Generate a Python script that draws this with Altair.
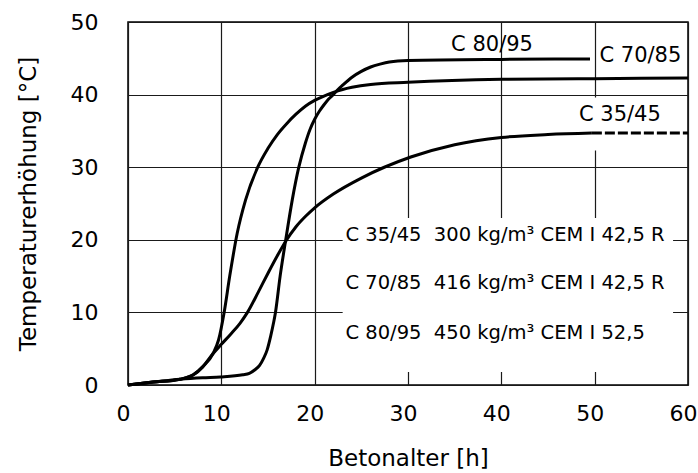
import altair as alt
import pandas as pd

# Temperaturerhöhung [°C] over Betonalter [h] for three concrete mixes
c7085_h = [0, 2.7, 5.6, 7.0, 8.0, 9.1, 9.7, 10.3, 10.9, 11.7, 12.6, 13.9, 15.0, 16.0, 17.0, 18.0, 19.0, 20.0, 21.0, 22.0, 23.0, 24.0, 26.0, 30.0, 40, 50, 60]
c7085_t = [0, 0.4, 0.8, 1.4, 2.5, 4.3, 6.2, 10.0, 15.0, 20.9, 25.5, 30.0, 32.6, 34.5, 36.0, 37.3, 38.4, 39.2, 39.8, 40.3, 40.7, 41.0, 41.4, 41.7, 42.1, 42.2, 42.3]

c8095_h = [0, 2.7, 5.6, 8.0, 9.9, 12.3, 13.0, 13.6, 14.1, 14.5, 14.9, 15.3, 15.6, 15.8, 16.3, 16.9, 17.6, 18.3, 19.0, 19.5, 20.0, 20.5, 21.0, 21.5, 22.0, 22.5, 23.0, 24.0, 25.0, 26.0, 27.0, 28.0, 30.0, 40.0, 49.5]
c8095_t = [0, 0.4, 0.8, 1.0, 1.1, 1.4, 1.6, 2.1, 2.7, 3.6, 4.8, 6.8, 8.6, 10.0, 15.0, 20.0, 25.5, 30.0, 33.3, 35.2, 36.6, 37.7, 38.6, 39.4, 40.0, 40.7, 41.3, 42.4, 43.2, 43.8, 44.2, 44.5, 44.7, 44.85, 44.9]

c3545_h = [0, 2.7, 5.6, 7.0, 8.0, 9.1, 10.0, 11.0, 12.0, 12.8, 14.0, 15.0, 16.0, 16.9, 18.0, 19.0, 20.0, 22.0, 25.0, 30.3, 35.0, 40.0, 45.0, 49.7]
c3545_t = [0, 0.4, 0.8, 1.4, 2.5, 4.3, 5.6, 7.0, 8.5, 10.0, 12.9, 15.4, 17.8, 19.8, 21.8, 23.2, 24.4, 26.3, 28.5, 31.4, 33.1, 34.1, 34.5, 34.7]

# extrapolated tail of C 35/45
c3545_tail_h = [49.7, 60]
c3545_tail_t = [34.7, 34.7]

# curve names and their label anchors
curve_names = ["C 80/95", "C 70/85", "C 35/45"]
curve_label_h = [39.0, 54.9, 52.7]
curve_label_t = [46.8, 45.3, 37.2]

# mix descriptions (non-breaking spaces keep the wide gap)
mix_lines = [
    "C 35/45\u00a0\u00a0300 kg/m³ CEM I 42,5 R",
    "C 70/85\u00a0\u00a0416 kg/m³ CEM I 42,5 R",
    "C 80/95\u00a0\u00a0450 kg/m³ CEM I 52,5",
]
mix_line_h = [23.3, 23.3, 23.3]
mix_line_t = [20.7, 14.05, 7.2]

# blank panels that interrupt the grid behind the texts
blank_h1 = [23.0, 49.6]
blank_h2 = [58.4, 50.4]
blank_t1 = [1.8, 32.3]
blank_t2 = [23.0, 39.6]

FONT = "DejaVu Sans"

curves = pd.concat([
    pd.DataFrame({"h": c7085_h, "t": c7085_t, "mix": "C 70/85"}),
    pd.DataFrame({"h": c8095_h, "t": c8095_t, "mix": "C 80/95"}),
    pd.DataFrame({"h": c3545_h, "t": c3545_t, "mix": "C 35/45"}),
])
tail = pd.DataFrame({"h": c3545_tail_h, "t": c3545_tail_t})
names = pd.DataFrame({"h": curve_label_h, "t": curve_label_t, "label": curve_names})
mixes = pd.DataFrame({"h": mix_line_h, "t": mix_line_t, "label": mix_lines})
blanks = pd.DataFrame({"h1": blank_h1, "h2": blank_h2, "t1": blank_t1, "t2": blank_t2})

x_scale = alt.Scale(domain=[0, 60], nice=False)
y_scale = alt.Scale(domain=[0, 50], nice=False)

x_axis = alt.Axis(
    values=[0, 10, 20, 30, 40, 50, 60], title="Betonalter [h]",
    grid=True, gridColor="#1a1a1a", gridWidth=1.2, ticks=False, domain=False,
    labelFont=FONT, labelFontSize=22, labelColor="black", labelPadding=18,
    labelFlush=False, labelOffset=-5,
    titleFont=FONT, titleFontSize=23, titleFontWeight="normal", titleColor="black",
    titleBaseline="alphabetic", titleY=80,
)
y_axis = alt.Axis(
    values=[0, 10, 20, 30, 40, 50], title="Temperaturerhöhung [°C]",
    grid=True, gridColor="#1a1a1a", gridWidth=1.2, ticks=False, domain=False,
    labelFont=FONT, labelFontSize=22, labelColor="black", labelPadding=30,
    labelFlush=False,
    titleFont=FONT, titleFontSize=23, titleFontWeight="normal", titleColor="black",
    titleBaseline="alphabetic", titleX=-93,
)

base = alt.Chart(curves).encode(
    x=alt.X("h:Q", scale=x_scale, axis=x_axis),
    y=alt.Y("t:Q", scale=y_scale, axis=y_axis),
)

blank_layer = alt.Chart(blanks).mark_rect(color="white").encode(
    x=alt.X("h1:Q", scale=x_scale), x2="h2:Q",
    y=alt.Y("t1:Q", scale=y_scale), y2="t2:Q",
)

line_layer = base.mark_line(color="black", strokeWidth=3, interpolate="monotone").encode(
    detail="mix:N"
)

tail_layer = alt.Chart(tail).mark_line(color="black", strokeWidth=3, strokeDash=[10, 3]).encode(
    x=alt.X("h:Q", scale=x_scale), y=alt.Y("t:Q", scale=y_scale)
)

name_layer = alt.Chart(names).mark_text(
    font=FONT, fontSize=21, color="black", align="center", baseline="middle"
).encode(
    x=alt.X("h:Q", scale=x_scale), y=alt.Y("t:Q", scale=y_scale), text="label:N"
)

mix_layer = alt.Chart(mixes).mark_text(
    font=FONT, fontSize=19.5, color="black", align="left", baseline="middle"
).encode(
    x=alt.X("h:Q", scale=x_scale), y=alt.Y("t:Q", scale=y_scale), text="label:N"
)

chart = alt.layer(
    base.mark_line(opacity=0), blank_layer, line_layer, tail_layer, name_layer, mix_layer
).properties(
    width=560, height=363,
    autosize=alt.AutoSizeParams(type="none"),
    padding={"left": 128, "top": 22, "right": 10, "bottom": 88},
    background="white",
).configure_view(
    stroke="black", strokeWidth=1.5
)

chart.save("out.html", embed_options={"renderer": "svg", "actions": False})
